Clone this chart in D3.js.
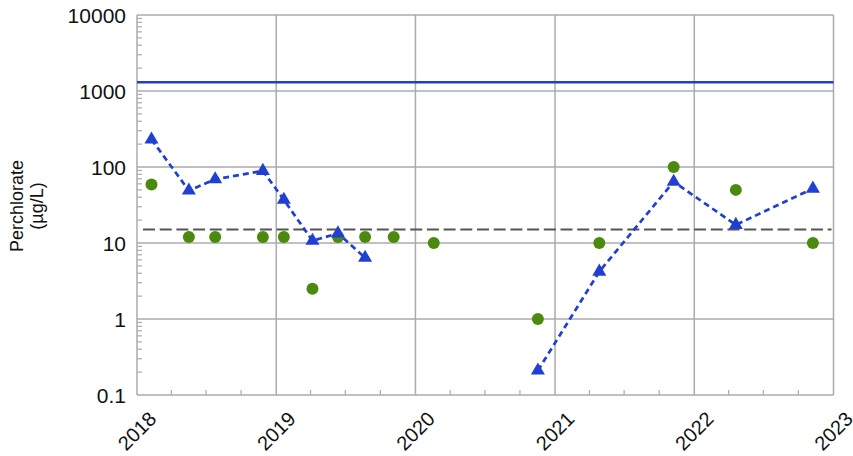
<!DOCTYPE html>
<html><head><meta charset="utf-8">
<script src="https://cdn.jsdelivr.net/npm/d3@7"></script>
<style>body{margin:0;background:#fff;}svg{display:block;font-family:"Liberation Sans",Arial,sans-serif;}</style>
</head><body>
<svg id="c" width="853" height="456"></svg>
<script>
const dates = ["2018-02-08","2018-05-17","2018-07-25","2018-11-27","2019-01-21","2019-04-06","2019-06-12","2019-08-22","2019-11-05","2020-02-18","2020-11-17","2021-04-27","2021-11-08","2022-04-20","2022-11-08"];
const seriesA = [230, 49, 69, 89, 37, 10.7, 13.4, 6.4, null, null, 0.21, 4.2, 64, 17.3, 52]; // blue triangles
const seriesB = [59, 12, 12, 12, 12, 2.5, 12, 12, 12, 10, 1, 10, 100, 50, 10]; // green circles
const yTicks = [0.1, 1, 10, 100, 1000, 10000];
const yTickLabels = ["0.1", "1", "10", "100", "1000", "10000"];
const xYears = [2018, 2019, 2020, 2021, 2022, 2023];
const limitSolid = 1300;
const limitDashed = 15;

const svg = d3.select("#c");
const L = 137, R = 833.5, T = 15, B = 395;
const parse = d3.timeParse("%Y-%m-%d");
const x = d3.scaleTime().domain([new Date(2018,0,1), new Date(2023,0,1)]).range([L, R]);
const y = d3.scaleLog().domain([0.1, 10000]).range([B, T]);
const grid = "#ababab";

// horizontal gridlines
svg.append("g").selectAll("line").data(yTicks).join("line")
  .attr("x1", L).attr("x2", R).attr("y1", d => y(d)).attr("y2", d => y(d))
  .attr("stroke", grid).attr("stroke-width", 1.5);
// vertical gridlines
svg.append("g").selectAll("line").data(xYears).join("line")
  .attr("x1", d => x(new Date(d,0,1))).attr("x2", d => x(new Date(d,0,1)))
  .attr("y1", T).attr("y2", B).attr("stroke", grid).attr("stroke-width", 1.5);

// minor y ticks (inside)
const minor = [];
for (let e = -1; e < 4; e++) for (let m = 2; m <= 9; m++) minor.push(m * Math.pow(10, e));
svg.append("g").selectAll("line").data(minor).join("line")
  .attr("x1", L).attr("x2", L + 5).attr("y1", d => y(d)).attr("y2", d => y(d))
  .attr("stroke", grid).attr("stroke-width", 1.2);
// minor x ticks (quarters, inside)
const quarters = [];
for (let yr = 2018; yr < 2023; yr++) for (let q = 1; q < 4; q++) quarters.push(new Date(yr, q * 3, 1));
svg.append("g").selectAll("line").data(quarters).join("line")
  .attr("x1", d => x(d)).attr("x2", d => x(d)).attr("y1", B).attr("y2", B - 5)
  .attr("stroke", grid).attr("stroke-width", 1.2);

// y tick labels
svg.append("g").selectAll("text").data(yTicks).join("text")
  .attr("x", 126).attr("y", d => y(d)).attr("dy", "0.36em")
  .attr("text-anchor", "end").attr("font-size", 21).attr("fill", "#111")
  .text((d, i) => yTickLabels[i]);
// x tick labels
svg.append("g").selectAll("text").data(xYears).join("text")
  .attr("transform", d => `translate(${x(new Date(d,0,1))},431) rotate(-45)`)
  .attr("text-anchor", "middle").attr("dy", "0.35em")
  .attr("font-size", 20).attr("fill", "#111").text(d => d);

// y axis title
const yt = svg.append("text").attr("transform", "translate(23,206) rotate(-90)")
  .attr("text-anchor", "middle").attr("font-size", 18).attr("fill", "#111");
yt.append("tspan").attr("x", 0).attr("dy", 0).text("Perchlorate");
yt.append("tspan").attr("x", 0).attr("dy", 20).text("(µg/L)");

// reference lines
svg.append("line").attr("x1", L).attr("x2", R).attr("y1", y(limitSolid)).attr("y2", y(limitSolid))
  .attr("stroke", "#2040c8").attr("stroke-width", 2.5);
svg.append("line").attr("x1", L + 6).attr("x2", R - 2).attr("y1", y(limitDashed)).attr("y2", y(limitDashed))
  .attr("stroke", "#555").attr("stroke-width", 2).attr("stroke-dasharray", "12,4.7");

const ptsA = dates.map((d, i) => ({ d: parse(d), v: seriesA[i] }));
const ptsB = dates.map((d, i) => ({ d: parse(d), v: seriesB[i] }));

// green circles
svg.append("g").selectAll("circle").data(ptsB.filter(p => p.v != null)).join("circle")
  .attr("cx", p => x(p.d)).attr("cy", p => y(p.v)).attr("r", 6).attr("fill", "#4a8a0c");

// blue dashed line
const line = d3.line().defined(p => p.v != null).x(p => x(p.d)).y(p => y(p.v));
svg.append("path").datum(ptsA).attr("d", line).attr("fill", "none")
  .attr("stroke", "#1f40d0").attr("stroke-width", 2.7).attr("stroke-dasharray", "6,4");
// triangles
svg.append("g").selectAll("path").data(ptsA.filter(p => p.v != null)).join("path")
  .attr("transform", p => `translate(${x(p.d)},${y(p.v)})`)
  .attr("d", d3.symbol(d3.symbolTriangle, 85)).attr("fill", "#1f40d0");
</script>
</body></html>
